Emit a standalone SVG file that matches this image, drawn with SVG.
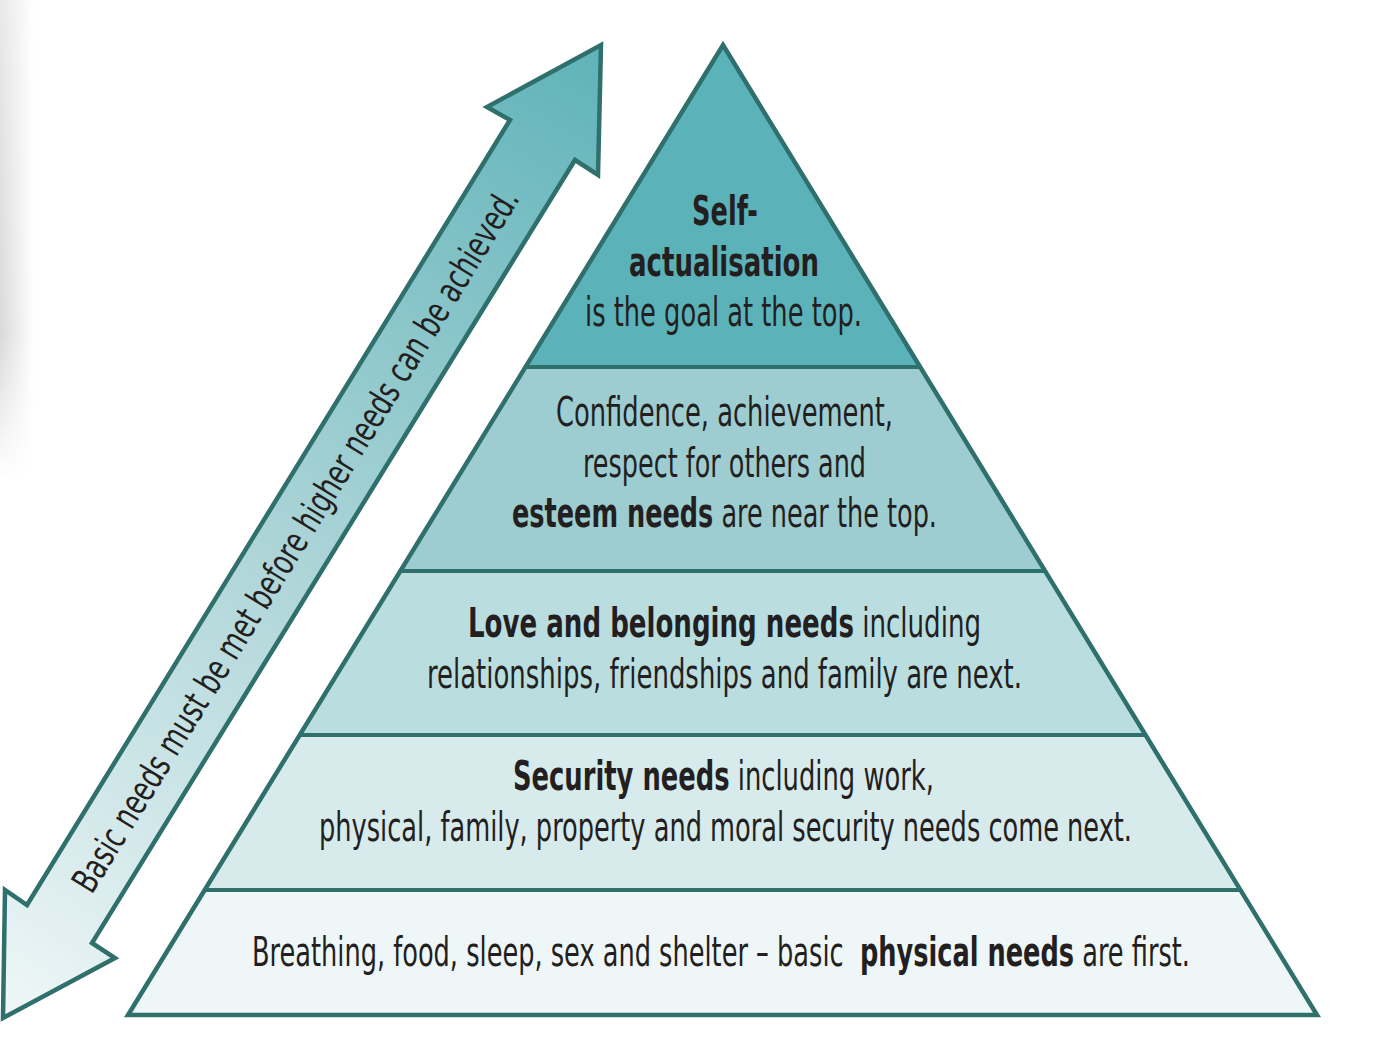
<svg xmlns="http://www.w3.org/2000/svg" width="1387" height="1052" viewBox="0 0 1387 1052">
  <defs>
    <linearGradient id="arrowGrad" gradientUnits="userSpaceOnUse" x1="600" y1="45" x2="0" y2="1020">
      <stop offset="0" stop-color="#5fb3b9"/>
      <stop offset="0.5" stop-color="#a9d3d6"/>
      <stop offset="1" stop-color="#f0f7f8"/>
    </linearGradient>
    <linearGradient id="shadeH" x1="0" y1="0" x2="1" y2="0">
      <stop offset="0" stop-color="#d9d9d9"/>
      <stop offset="1" stop-color="#ffffff"/>
    </linearGradient>
    <linearGradient id="shadeV" x1="0" y1="0" x2="0" y2="1">
      <stop offset="0" stop-color="#fff" stop-opacity="0.6"/>
      <stop offset="0.7" stop-color="#fff" stop-opacity="1"/>
      <stop offset="1" stop-color="#fff" stop-opacity="0"/>
    </linearGradient>
    <mask id="shadeMask">
      <rect x="0" y="0" width="40" height="480" fill="url(#shadeV)"/>
    </mask>
  </defs>
  <style>
    .edge { stroke: #2f6f6c; stroke-width: 4.5; stroke-linejoin: miter; }
    .line { stroke: #2f6f6c; stroke-width: 4; }
    .t { font-family: "Liberation Sans Narrow", "DejaVu Sans Condensed", "Liberation Sans", Arial, sans-serif; font-size: 40px; fill: #231f20; }
    .b { font-weight: bold; }
    .arrowtext { font-family: "Liberation Sans Narrow", "DejaVu Sans Condensed", "Liberation Sans", Arial, sans-serif; font-size: 36px; fill: #231f20; }
  </style>

  <rect width="1387" height="1052" fill="#ffffff"/>
  <rect x="0" y="0" width="34" height="480" fill="url(#shadeH)" mask="url(#shadeMask)"/>

  <g id="connectors">
    <g id="arrow">
      <polygon points="601,45 598,175 575,160 92,943 115,958 3,1018 5,890 27,905 510,120 487,107" fill="url(#arrowGrad)" class="edge"/>
      <text class="arrowtext" text-anchor="middle" textLength="818" lengthAdjust="spacingAndGlyphs" transform="translate(306,547) rotate(-58.4)">Basic needs must be met before higher needs can be achieved.</text>
    </g>
  </g>

  <g id="pyramid">
    <g id="level-physical">
      <polygon points="204.7,890 1240.5,890 1317,1015 128,1015" fill="#eff6f7"/>
      <text class="t" x="252" y="966" textLength="938" lengthAdjust="spacingAndGlyphs">Breathing, food, sleep, sex and shelter – basic&#160; <tspan class="b">physical needs</tspan> are first.</text>
    </g>
    <g id="level-security">
      <polygon points="299.8,735 1145.6,735 1240.5,890 204.7,890" fill="#d7eaec"/>
      <text class="t" x="513" y="790" textLength="421" lengthAdjust="spacingAndGlyphs"><tspan class="b">Security needs</tspan> including work,</text>
      <text class="t" x="319" y="841" textLength="813" lengthAdjust="spacingAndGlyphs">physical, family, property and moral security needs come next.</text>
    </g>
    <g id="level-love">
      <polygon points="400.4,571 1045.1,571 1145.6,735 299.8,735" fill="#badde0"/>
      <text class="t" x="468" y="637" textLength="513" lengthAdjust="spacingAndGlyphs"><tspan class="b">Love and belonging needs</tspan> including</text>
      <text class="t" x="427" y="688" textLength="595" lengthAdjust="spacingAndGlyphs">relationships, friendships and family are next.</text>
    </g>
    <g id="level-esteem">
      <polygon points="525.5,367 920.2,367 1045.1,571 400.4,571" fill="#9dcdd1"/>
      <text class="t" x="556" y="426" textLength="337" lengthAdjust="spacingAndGlyphs">Confidence, achievement,</text>
      <text class="t" x="583" y="477" textLength="283" lengthAdjust="spacingAndGlyphs">respect for others and</text>
      <text class="t" x="512" y="527" textLength="425" lengthAdjust="spacingAndGlyphs"><tspan class="b">esteem needs</tspan> are near the top.</text>
    </g>
    <g id="level-self">
      <polygon points="723,45 920.2,367 525.5,367" fill="#5bb3b9"/>
      <text class="t b" x="692" y="225" textLength="66" lengthAdjust="spacingAndGlyphs">Self-</text>
      <text class="t b" x="629" y="276" textLength="190" lengthAdjust="spacingAndGlyphs">actualisation</text>
      <text class="t" x="585" y="326" textLength="277" lengthAdjust="spacingAndGlyphs">is the goal at the top.</text>
    </g>
    <g id="pyramid-outline">
      <polygon points="723,45 1317,1015 128,1015" class="edge" fill="none"/>
      <line x1="525.5" y1="367" x2="920.2" y2="367" class="line"/>
      <line x1="400.4" y1="571" x2="1045.1" y2="571" class="line"/>
      <line x1="299.8" y1="735" x2="1145.6" y2="735" class="line"/>
      <line x1="204.7" y1="890" x2="1240.5" y2="890" class="line"/>
    </g>
  </g>
</svg>
